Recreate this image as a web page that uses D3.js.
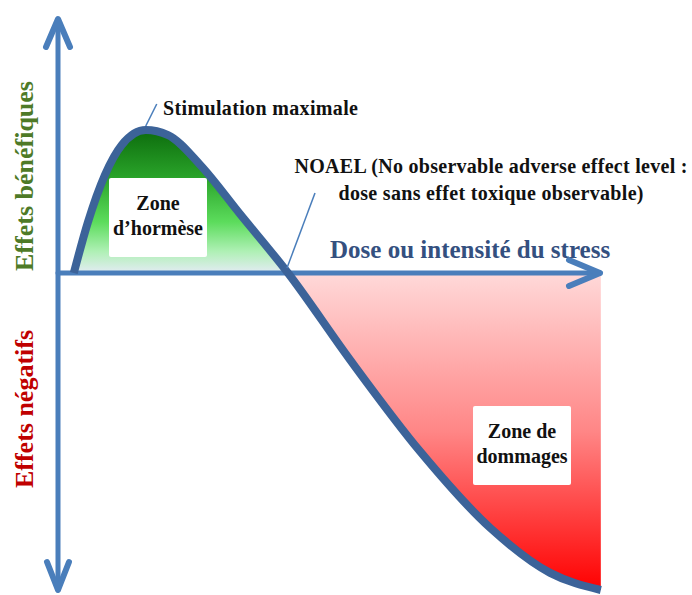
<!DOCTYPE html>
<html>
<head>
<meta charset="utf-8">
<script src="https://cdn.jsdelivr.net/npm/d3@7"></script>
<style>
  body { margin: 0; background: #fff; }
</style>
</head>
<body>
<div id="chart"></div>
<script>
// Courbe dose-réponse (hormèse): dose en abscisse, effet en ordonnée
const doses   = [0.29, 0.55, 0.86, 1.17, 1.61, 2.02, 2.61, 3.34, 4.22,
                 5.36, 6.64, 7.93, 9.03, 9.96];
const effects = [0, 1.61, 3.09, 4.04, 4.51, 4.35, 3.41, 1.86, 0,
                 -2.74, -5.62, -8.04, -9.46, -10.0];
const peakIndex = 4;     // stimulation maximale
const noaelIndex = 8;    // NOAEL: la courbe recoupe l'axe

const axisLabels = { x: "Dose ou intensité du stress", yPos: "Effets bénéfiques", yNeg: "Effets négatifs" };
const stimLabel = "Stimulation maximale";
const noaelLines = ["NOAEL (No observable adverse effect level :", "dose sans effet toxique observable)"];
const hormesisLines = ["Zone", "d\u2019hormèse"];
const damageLines = ["Zone de", "dommages"];

const W = 692, H = 595;
const FONT = "'Liberation Serif', 'Times New Roman', 'DejaVu Serif', serif";
const points = doses.map((d, i) => ({ dose: d, effect: effects[i] }));

const x = d3.scaleLinear().domain([0, 10]).range([58, 603]);
const y = d3.scaleLinear().domain([-10, 0]).range([590, 273]);

const svg = d3.select("#chart").append("svg").attr("width", W).attr("height", H)
    .style("font-family", FONT).style("font-weight", "bold");
const defs = svg.append("defs");

// Dégradés
const green = defs.append("linearGradient").attr("id", "g-green")
    .attr("gradientUnits", "userSpaceOnUse")
    .attr("x1", 0).attr("x2", 0).attr("y1", y(4.6)).attr("y2", y(0));
[[0, "#0b690b"], [0.35, "#2aa42a"], [0.65, "#5cdc5c"], [0.85, "#aef0b4"], [1, "#e4ecf4"]]
    .forEach(([o, c]) => green.append("stop").attr("offset", o).attr("stop-color", c));

const red = defs.append("linearGradient").attr("id", "g-red")
    .attr("gradientUnits", "userSpaceOnUse")
    .attr("x1", 0).attr("x2", 0).attr("y1", y(0)).attr("y2", y(-10));
[[0, "#ffd9d9"], [0.5, "#ff8686"], [1, "#ff0000"]]
    .forEach(([o, c]) => red.append("stop").attr("offset", o).attr("stop-color", c));

const smooth = d3.curveMonotoneX;
const area = d3.area().curve(smooth)
    .x(d => x(d.dose)).y0(y(0)).y1(d => y(d.effect));

// Zone d'hormèse (au-dessus de l'axe) et zone de dommages (en dessous)
svg.append("path").datum(points.slice(0, noaelIndex + 1))
    .attr("d", area).attr("fill", "url(#g-green)");
svg.append("path").datum(points.slice(noaelIndex))
    .attr("d", area).attr("fill", "url(#g-red)");

// Axes avec flèches
const axisColor = "#4a7ebb";
const ax = svg.append("g").attr("stroke", axisColor).attr("fill", "none")
    .attr("stroke-linecap", "round").attr("stroke-linejoin", "round");
ax.append("line").attr("x1", x(0)).attr("x2", x(0)).attr("y1", 20).attr("y2", 590).attr("stroke-width", 5);
ax.append("line").attr("x1", x(0)).attr("x2", 600).attr("y1", y(0)).attr("y2", y(0)).attr("stroke-width", 5);
ax.append("polyline").attr("stroke-width", 6)
    .attr("points", `${x(0) - 12},47 ${x(0)},19 ${x(0) + 12},47`);
ax.append("polyline").attr("stroke-width", 6)
    .attr("points", `${x(0) - 11},562 ${x(0)},590 ${x(0) + 11},562`);
ax.append("polyline").attr("stroke-width", 6)
    .attr("points", `569,${y(0) - 13} 600,${y(0)} 569,${y(0) + 13}`);

// Courbe
const line = d3.line().curve(smooth).x(d => x(d.dose)).y(d => y(d.effect));
svg.append("path").datum(points).attr("d", line)
    .attr("fill", "none").attr("stroke", "#3c6399").attr("stroke-width", 8);

// Traits de rappel
const peak = points[peakIndex], noael = points[noaelIndex];
svg.append("line").attr("stroke", axisColor).attr("stroke-width", 1.5)
    .attr("x1", x(peak.dose)).attr("y1", y(peak.effect) - 4)
    .attr("x2", x(peak.dose) + 11).attr("y2", y(peak.effect) - 26);
svg.append("line").attr("stroke", axisColor).attr("stroke-width", 1.5)
    .attr("x1", x(noael.dose) - 1).attr("y1", y(noael.effect) - 5)
    .attr("x2", x(noael.dose) + 27).attr("y2", y(noael.effect) - 80);

// Textes
svg.append("text").attr("x", 163).attr("y", 115).attr("font-size", 20)
    .attr("textLength", 195).attr("lengthAdjust", "spacing")
    .attr("fill", "#111").text(stimLabel);

noaelLines.forEach((t, i) => {
    svg.append("text").attr("x", 491).attr("y", 173 + i * 27)
        .attr("text-anchor", "middle").attr("font-size", 20)
        .attr("textLength", i === 0 ? 393 : 305).attr("lengthAdjust", "spacing")
        .attr("fill", "#111").text(t);
});

svg.append("text").attr("x", 330).attr("y", 258).attr("font-size", 25)
    .attr("fill", "#34507f").text(axisLabels.x);

svg.append("text").attr("transform", "translate(33,176) rotate(-90)")
    .attr("text-anchor", "middle").attr("font-size", 26)
    .attr("fill", "#4e7a27").text(axisLabels.yPos);
svg.append("text").attr("transform", "translate(33,409) rotate(-90)")
    .attr("text-anchor", "middle").attr("font-size", 26)
    .attr("fill", "#c00000").text(axisLabels.yNeg);

// Étiquettes des zones
function zoneBox(x0, y0, w, h, lines, baseline) {
    svg.append("rect").attr("x", x0).attr("y", y0).attr("width", w).attr("height", h)
        .attr("rx", 2).attr("fill", "#fff");
    lines.forEach((t, i) => {
        svg.append("text").attr("x", x0 + w / 2).attr("y", baseline + i * 25)
            .attr("text-anchor", "middle").attr("font-size", 20).attr("fill", "#111").text(t);
    });
}
zoneBox(109, 178, 98, 79, hormesisLines, 210);
zoneBox(473, 406, 98, 79, damageLines, 438);
</script>
</body>
</html>
